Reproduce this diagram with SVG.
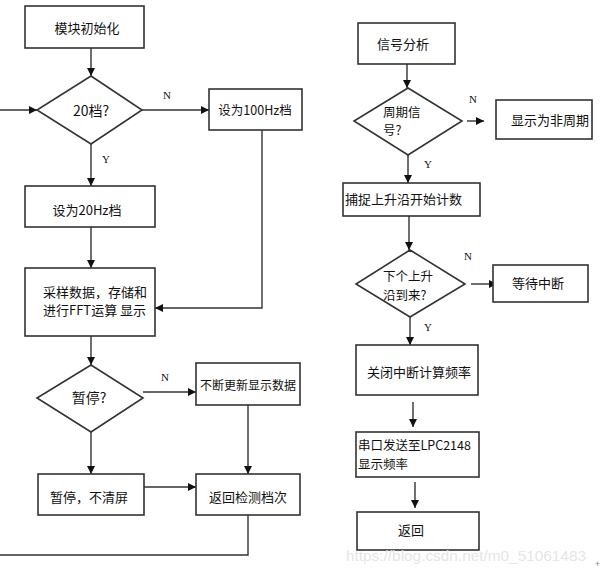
<svg xmlns="http://www.w3.org/2000/svg" width="601" height="573" viewBox="0 0 601 573">
<defs>
<marker id="ah" viewBox="0 0 10 10" refX="10" refY="5" markerWidth="8" markerHeight="8" markerUnits="userSpaceOnUse" orient="auto">
<path d="M0,0 L10,5 L0,10 z" fill="#111"/>
</marker>
</defs>
<style>
.b{fill:#fff;stroke:#333;stroke-width:1.6}
.c{fill:none;stroke:#333;stroke-width:1.4;marker-end:url(#ah)}
text{font-family:"Noto Sans CJK SC","Liberation Sans",sans-serif;font-size:13px;fill:#111}
.m{text-anchor:middle;dominant-baseline:central}
.t{font-size:12.5px}
.s{font-family:"Liberation Serif","Noto Sans CJK SC",serif;font-size:11px}
.w{font-family:"Liberation Sans",sans-serif;font-size:15px;fill:#e6e6e6}
</style>
<rect width="601" height="573" fill="#fff"/>
<g id="connectors">
<path class="c" d="M91,48 V76"/>
<path class="c" d="M142,110 H209"/>
<path class="c" d="M262,130 V308 H155"/>
<path class="c" d="M91,144 V186"/>
<path class="c" d="M91,227 V268"/>
<path class="c" d="M91,336 V365"/>
<path class="c" d="M143,392 H196"/>
<path class="c" d="M248,405 V474"/>
<path class="c" d="M91,432 V474"/>
<path class="c" d="M144,487 H196"/>
<path class="c" d="M248,515 V555 H-2 V110 H37"/>
<path class="c" d="M407,64 V88"/>
<path class="c" d="M467,121 H484"/>
<path class="c" d="M408,155 V183"/>
<path class="c" d="M409,216 V250"/>
<path class="c" d="M471,284 H497"/>
<path class="c" d="M410,317 V345"/>
<path class="c" d="M413,402 V427"/>
<path class="c" d="M415,482 V508"/>
<text class="s" x="163" y="99">N</text>
<text class="s" x="102" y="163">Y</text>
<text class="s" x="161" y="381">N</text>
<text class="s" x="469" y="103">N</text>
<text class="s" x="424" y="168">Y</text>
<text class="s" x="464" y="260">N</text>
<text class="s" x="424" y="331">Y</text>
</g>
<g id="n1"><rect class="b" x="25" y="6" width="119" height="42"/><text class="m" x="87" y="27">模块初始化</text></g>
<g id="n2"><path class="b" d="M91,76 L142,110 L91,144 L37,110 z"/><text class="m" x="91" y="110" style="font-size:14px">20档?</text></g>
<g id="n3"><rect class="b" x="209" y="89" width="93" height="41"/><text class="m t" x="255" y="109">设为100Hz档</text></g>
<g id="n4"><rect class="b" x="25" y="186" width="130" height="41"/><text class="m" x="87" y="209">设为20Hz档</text></g>
<g id="n5"><rect class="b" x="25" y="268" width="130" height="68"/><text x="43" y="297">采样数据，存储和</text><text x="43" y="315">进行FFT运算 显示</text></g>
<g id="n6"><path class="b" d="M91,365 L143,398 L91,432 L37,398 z"/><text class="m" x="89" y="397" style="font-size:14px">暂停?</text></g>
<g id="n7"><rect class="b" x="196" y="363" width="104" height="42"/><text class="m" x="248" y="384" style="font-size:12px">不断更新显示数据</text></g>
<g id="n8"><rect class="b" x="38" y="474" width="106" height="41"/><text class="m" x="89" y="496">暂停，不清屏</text></g>
<g id="n9"><rect class="b" x="196" y="474" width="104" height="41"/><text class="m" x="248" y="496">返回检测档次</text></g>
<g id="r1"><rect class="b" x="358" y="23" width="97" height="41"/><text x="377" y="49">信号分析</text></g>
<g id="r2"><path class="b" d="M408,88 L462,121 L408,155 L354,121 z"/><text class="t" x="383" y="117">周期信</text><text class="t" x="383" y="135">号?</text></g>
<g id="r3"><rect class="b" x="496" y="100" width="96" height="39"/><text x="511" y="125">显示为非周期</text></g>
<g id="r4"><rect class="b" x="343" y="183" width="137" height="33"/><text x="345" y="204">捕捉上升沿开始计数</text></g>
<g id="r5"><path class="b" d="M410,250 L465,284 L410,317 L356,284 z"/><text class="t" x="383" y="281">下个上升</text><text class="t" x="383" y="300">沿到来?</text></g>
<g id="r6"><rect class="b" x="493" y="265" width="95" height="37"/><text x="512" y="288">等待中断</text></g>
<g id="r7"><rect class="b" x="356" y="345" width="122" height="50"/><text x="367" y="377">关闭中断计算频率</text></g>
<g id="r8"><rect class="b" x="356" y="432" width="123" height="45"/><text class="t" x="358" y="450">串口发送至LPC2148</text><text class="t" x="358" y="469">显示频率</text></g>
<g id="r9"><rect class="b" x="357" y="512" width="122" height="38"/><text x="398" y="535">返回</text></g>
<text class="w" x="346" y="561" textLength="240" lengthAdjust="spacingAndGlyphs">https://blog.csdn.net/m0_51061483</text>
<text x="595" y="567" style="font-size:9px;fill:#888">+</text>
</svg>
